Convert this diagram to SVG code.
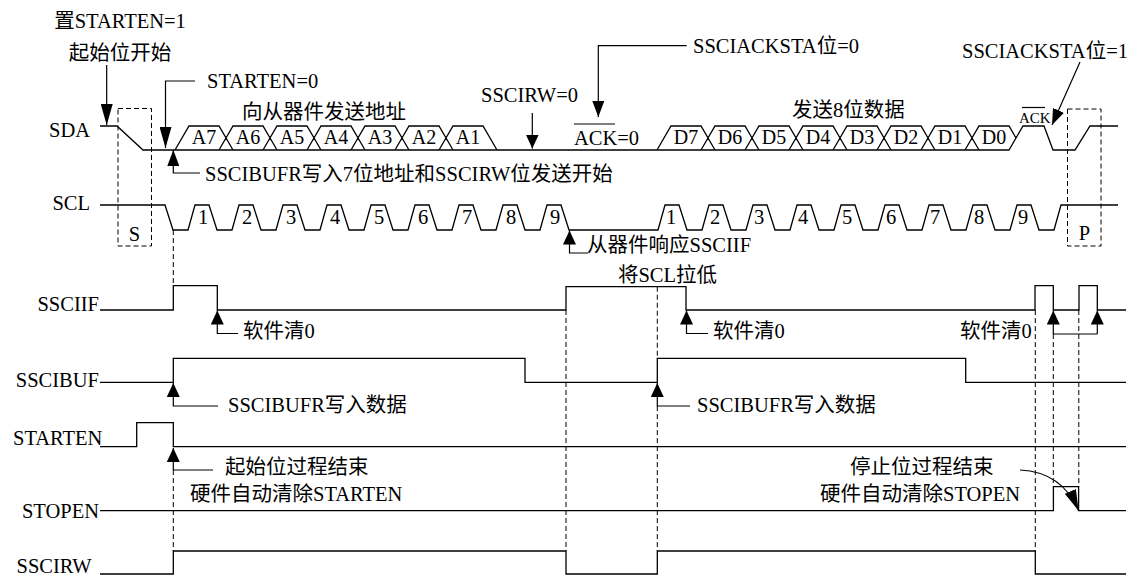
<svg xmlns="http://www.w3.org/2000/svg" width="1132" height="576" viewBox="0 0 1132 576">
<style>
.t{font-family:"Liberation Serif","Noto Sans CJK SC",serif;font-size:20.5px;fill:#000}
.s{fill:none;stroke:#000;stroke-width:1.3}
.d{fill:none;stroke:#000;stroke-width:1;stroke-dasharray:5,3}
.a{fill:none;stroke:#000;stroke-width:1.2}
</style>
<defs>
<marker id="aL" markerUnits="userSpaceOnUse" markerWidth="21" markerHeight="12" viewBox="0 0 21 12" refX="21" refY="6" orient="auto"><path d="M0,0 L21,6 L0,12 z" fill="#000"/></marker>
<marker id="aM" markerUnits="userSpaceOnUse" markerWidth="16" markerHeight="12" viewBox="0 0 16 12" refX="16" refY="6" orient="auto"><path d="M0,0 L16,6 L0,12 z" fill="#000"/></marker>
<marker id="aS" markerUnits="userSpaceOnUse" markerWidth="14" markerHeight="13" viewBox="0 0 14 13" refX="14" refY="6.5" orient="auto"><path d="M0,0 L14,6.5 L0,13 z" fill="#000"/></marker>
</defs>

<g id="sig-SDA">
<text class="t" x="90" y="137" text-anchor="end">SDA</text>
<path class="s" d="M100,126 H117 L143,150 H1009 L1023,126 H1044 L1053,150 H1075 L1090,126 H1118"/>
<path class="s" d="M175,150 L189,126 H219 L233,150 M219,150 L233,126 H263 L277,150 M263,150 L277,126 H307 L321,150 M307,150 L321,126 H351 L365,150 M351,150 L365,126 H395 L409,150 M395,150 L409,126 H439 L453,150 M439,150 L453,126 H483 L497,150"/>
<path class="s" d="M657,150 L671,126 H701 L715,150 M701,150 L715,126 H745 L759,150 M745,150 L759,126 H789 L803,150 M789,150 L803,126 H833 L847,150 M833,150 L847,126 H877 L891,150 M877,150 L891,126 H921 L935,150 M921,150 L935,126 H965 L979,150 M965,150 L979,126 H1009 L1016,138"/>
<g class="t" text-anchor="middle" style="font-size:20px">
<text x="204" y="143.5">A7</text><text x="248" y="143.5">A6</text><text x="292" y="143.5">A5</text><text x="336" y="143.5">A4</text><text x="380" y="143.5">A3</text><text x="424" y="143.5">A2</text><text x="468" y="143.5">A1</text>
<text x="686" y="143.5">D7</text><text x="730" y="143.5">D6</text><text x="774" y="143.5">D5</text><text x="818" y="143.5">D4</text><text x="862" y="143.5">D3</text><text x="906" y="143.5">D2</text><text x="950" y="143.5">D1</text><text x="994" y="143.5">D0</text>
</g>
</g>

<g id="sig-SCL">
<text class="t" x="90" y="210" text-anchor="end">SCL</text>
<path class="s" d="M100,205 H165 L173,230 H188 L195,205 H209 L217,230 H232 L239,205 H253 L261,230 H276 L283,205 H297 L305,230 H320 L327,205 H341 L349,230 H364 L371,205 H385 L393,230 H408 L415,205 H429 L437,230 H452 L459,205 H473 L481,230 H496 L503,205 H517 L525,230 H540 L547,205 H561 L569,230 H658 L665,205 H679 L687,230 H702 L709,205 H723 L731,230 H746 L753,205 H767 L775,230 H790 L797,205 H811 L819,230 H834 L841,205 H855 L863,230 H878 L885,205 H899 L907,230 H922 L929,205 H943 L951,230 H966 L973,205 H987 L995,230 H1010 L1017,205 H1031 L1039,230 H1054 L1061,205 H1118"/>
<g class="t" text-anchor="middle">
<text x="203" y="224">1</text><text x="247" y="224">2</text><text x="291" y="224">3</text><text x="335" y="224">4</text><text x="379" y="224">5</text><text x="423" y="224">6</text><text x="467" y="224">7</text><text x="511" y="224">8</text><text x="555" y="224">9</text>
<text x="671" y="224">1</text><text x="715" y="224">2</text><text x="759" y="224">3</text><text x="803" y="224">4</text><text x="847" y="224">5</text><text x="891" y="224">6</text><text x="935" y="224">7</text><text x="979" y="224">8</text><text x="1023" y="224">9</text>
</g>
</g>

<g id="box-S">
<rect class="d" x="118" y="108.5" width="33.5" height="137.5"/>
<text class="t" x="134.5" y="241" text-anchor="middle">S</text>
</g>
<g id="box-P">
<rect class="d" x="1067.5" y="109" width="33.5" height="137"/>
<text class="t" x="1084.5" y="240" text-anchor="middle">P</text>
</g>

<g id="sig-SSCIIF">
<text class="t" x="99" y="311" text-anchor="end">SSCIIF</text>
<path class="s" d="M100,310 H173.3 V285.7 H217.3 V310 H566 V286.7 H686 V310 H1035 V285.7 H1053.3 V310 H1079 V285.7 H1097.3 V310 H1126"/>
</g>
<g id="sig-SSCIBUF">
<text class="t" x="99" y="387" text-anchor="end">SSCIBUF</text>
<path class="s" d="M100,382.3 H173.3 V358.3 H525 V382.3 H657.3 V358.3 H965.7 V382.3 H1126"/>
</g>
<g id="sig-STARTEN">
<text class="t" x="13" y="445">STARTEN</text>
<path class="s" d="M100,446.7 H136.7 V422.7 H173.3 V446.7 H1126"/>
</g>
<g id="sig-STOPEN">
<text class="t" x="99" y="518" text-anchor="end">STOPEN</text>
<path class="s" d="M100,510.7 H1053.4 V486.7 H1078.6 V510.7 H1126"/>
</g>
<g id="sig-SSCIRW">
<text class="t" x="16.5" y="573">SSCIRW</text>
<path class="s" d="M100,574 H173.3 V551 H566 V574 H657.3 V551 H1035.3 V574 H1126"/>
</g>

<g id="guides">
<path class="d" d="M173.3,230 V285.7 M173.3,470 V551 M566,310 V551 M657.3,286.7 V358.3 M657.3,406 V551 M1035.3,310 V551 M1053.3,334 V486.7 M1078.8,310 V486.7"/>
</g>

<g id="connectors">
<path class="a" d="M106.7,65 V125" marker-end="url(#aL)"/>
<path class="a" d="M195,81 H165.5 V148" marker-end="url(#aL)"/>
<path class="a" d="M200,173 H173.3 V150" marker-end="url(#aM)"/>
<path class="a" d="M532.3,113 V148.5" marker-end="url(#aS)"/>
<path class="a" d="M686.7,45.7 H598.3 V117" marker-end="url(#aM)"/>
<path class="a" d="M1080,62 L1052,125" marker-end="url(#aM)"/>
<path class="a" d="M588,253 H569.5 V230.5" marker-end="url(#aS)"/>
<path class="a" d="M238,333.5 H217.3 V310.5" marker-end="url(#aS)"/>
<path class="a" d="M708,333.5 H686.5 V310.5" marker-end="url(#aS)"/>
<path class="a" d="M1097.3,334 H1053.3 V310.5" marker-end="url(#aS)"/>
<path class="a" d="M1097.3,334 V310.5" marker-end="url(#aS)"/>
<path class="a" d="M218,406 H173.3 V383" marker-end="url(#aS)"/>
<path class="a" d="M690,406 H657.3 V383" marker-end="url(#aS)"/>
<path class="a" d="M213,470 H173.3 V448" marker-end="url(#aS)"/>
<path class="a" d="M1020,470 Q1062,472 1078.6,510.7" marker-end="url(#aL)"/>
</g>

<g id="labels">
<text class="t" x="120" y="28" text-anchor="middle">置STARTEN=1</text>
<text class="t" x="120" y="59.5" text-anchor="middle">起始位开始</text>
<text class="t" x="207" y="88">STARTEN=0</text>
<text class="t" x="242" y="118.5">向从器件发送地址</text>
<text class="t" x="481" y="101.5">SSCIRW=0</text>
<text class="t" x="693" y="53">SSCIACKSTA位=0</text>
<text class="t" x="574" y="145">ACK=0</text>
<line class="a" x1="574" y1="124" x2="615" y2="124"/>
<text class="t" x="792" y="116.5">发送8位数据</text>
<text class="t" x="962" y="58">SSCIACKSTA位=1</text>
<text class="t" x="1019" y="123" style="font-size:15px">ACK</text>
<line class="a" x1="1022" y1="107.5" x2="1045" y2="107.5"/>
<text class="t" x="205" y="181">SSCIBUFR写入7位地址和SSCIRW位发送开始</text>
<text class="t" x="587" y="252">从器件响应SSCIIF</text>
<text class="t" x="667.5" y="282" text-anchor="middle">将SCL拉低</text>
<text class="t" x="243" y="337.5">软件清0</text>
<text class="t" x="713" y="337.5">软件清0</text>
<text class="t" x="960" y="337.5">软件清0</text>
<text class="t" x="228" y="412">SSCIBUFR写入数据</text>
<text class="t" x="697" y="412">SSCIBUFR写入数据</text>
<text class="t" x="225" y="474">起始位过程结束</text>
<text class="t" x="190" y="501">硬件自动清除STARTEN</text>
<text class="t" x="850" y="474">停止位过程结束</text>
<text class="t" x="820" y="501">硬件自动清除STOPEN</text>
</g>
</svg>
